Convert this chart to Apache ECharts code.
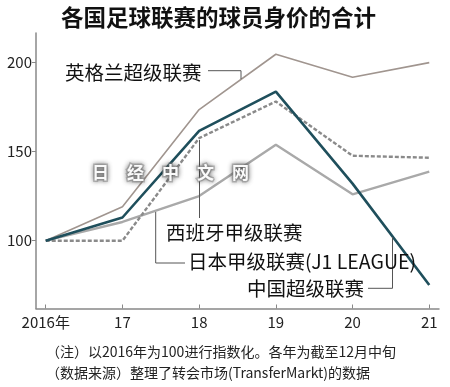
<!DOCTYPE html>
<html><head><meta charset="utf-8">
<script src="https://cdn.jsdelivr.net/npm/echarts@6/dist/echarts.min.js"></script>
<style>html,body{margin:0;padding:0;background:#fff}#c{width:450px;height:387px}</style>
</head><body><div id="c"></div>
<script>
const years = [2016, 2017, 2018, 2019, 2020, 2021];
const england = [100, 119, 173.5, 204.5, 191.6, 199.8];
const spain = [100, 100, 157.5, 178, 147.6, 146.5];
const japan = [100, 110.5, 125, 153.8, 126, 138.7];
const china = [100, 113, 161.5, 183.5, 132, 75.2];
const yTicks = [100, 150, 200];
const title = '各国足球联赛的球员身价的合计';
const note1 = '（注）以2016年为100进行指数化。各年为截至12月中旬';
const note2 = '（数据来源）整理了转会市场(TransferMarkt)的数据';
const names = ['英格兰超级联赛', '西班牙甲级联赛', '日本甲级联赛(J1 LEAGUE)', '中国超级联赛'];
const watermark = ['日', '经', '中', '文', '网'];

const F = '"Noto Sans CJK SC", "Noto Sans", sans-serif';
const pair = arr => years.map((y, i) => [y, arr[i]]);
const leader = pts => ({type: 'polyline', shape: {points: pts}, style: {stroke: '#555', lineWidth: 1, fill: null}, z: 10});
const txt = (x, y, t, size, extra) => ({type: 'text', x, y, style: Object.assign({text: t, font: size + 'px ' + F, fill: '#111', textVerticalAlign: 'middle'}, extra || {}), z: 11});

const chart = echarts.init(document.getElementById('c'), null, {renderer: 'canvas'});
chart.setOption({
  animation: false,
  backgroundColor: '#fff',
  grid: {left: 36, right: 11, top: 33, bottom: 78.5},
  xAxis: {
    type: 'value', min: 2015.873, max: 2021.127,
    axisLine: {lineStyle: {color: '#888', width: 1.5}},
    axisTick: {inside: true, length: 4, customValues: years, lineStyle: {color: '#888'}},
    axisLabel: {customValues: years, fontFamily: F, fontSize: 15, color: '#222', margin: 6,
      formatter: v => v === 2016 ? '2016年' : String(v).slice(2)},
    splitLine: {show: false}
  },
  yAxis: {
    type: 'value', min: 62, max: 216.4,
    axisLine: {show: true, lineStyle: {color: '#888', width: 1.5}},
    axisTick: {show: true, length: 4, customValues: yTicks, lineStyle: {color: '#888'}},
    axisLabel: {customValues: yTicks, fontFamily: F, fontSize: 15, color: '#222', margin: 4},
    splitLine: {show: false}
  },
  series: [
    {type: 'line', name: names[0], data: pair(england), symbol: 'none', lineStyle: {color: '#a0958f', width: 1.6}, z: 2},
    {type: 'line', name: names[2], data: pair(japan), symbol: 'none', lineStyle: {color: '#a9a9a9', width: 2.4}, z: 3},
    {type: 'line', name: names[1], data: pair(spain), symbol: 'none', lineStyle: {color: '#8a8a8a', width: 2.4, type: [4, 2]}, z: 4},
    {type: 'line', name: names[3], data: pair(china), symbol: 'none', lineStyle: {color: '#1f4f5c', width: 2.6}, z: 5}
  ],
  graphic: [
    txt(218.5, 17, title, 22.5, {font: 'bold 22.5px ' + F, textAlign: 'center'}),
    txt(65, 72.5, names[0], 19.5),
    leader([[208, 70.7], [241, 70.7], [241, 79]]),
    txt(166, 232.5, names[1], 19.5),
    leader([[199.5, 140], [199.5, 218]]),
    txt(188, 262, names[2], 19.5),
    leader([[155.7, 212], [155.7, 263], [185, 263]]),
    txt(247, 289, names[3], 19.5),
    leader([[368, 288.3], [392.5, 288.3], [392.5, 237]]),
    txt(46, 352, note1, 14, {fill: '#222'}),
    txt(46, 373, note2, 14, {fill: '#222'}),
    ...watermark.map((c, i) => txt(92 + i * 35, 173, c, 17,
      {font: 'bold 17px ' + F, fill: '#fafafa', stroke: 'rgba(150,150,150,0.55)', lineWidth: 3,
       textShadowColor: 'rgba(0,0,0,0.5)', textShadowBlur: 5}))
  ]
});
</script></body></html>
